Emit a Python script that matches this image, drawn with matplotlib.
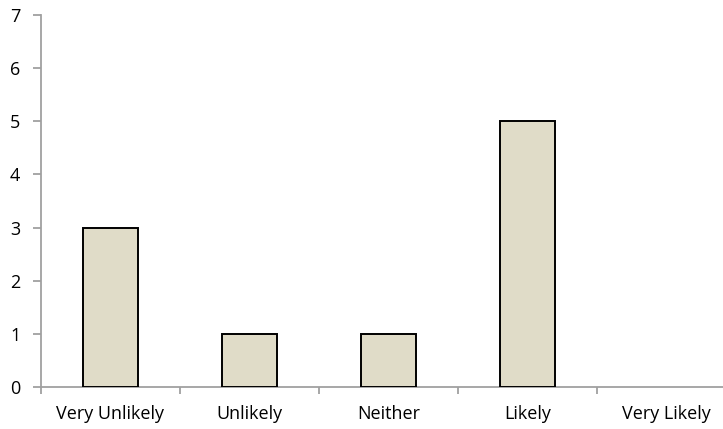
import matplotlib
matplotlib.use("Agg")
import matplotlib.pyplot as plt
import numpy as np

categories = ["Very Unlikely", "Unlikely", "Neither", "Likely", "Very Likely"]
counts = [3, 1, 1, 5, 0]
y_ticks = [0, 1, 2, 3, 4, 5, 6, 7]

plt.rcParams['font.family'] = ['Open Sans', 'DejaVu Sans']

fig = plt.figure(figsize=(7.23, 4.29), dpi=100)
# axis runs past the right edge of the picture, like the original
ax = fig.add_axes([41 / 723, 42 / 429, 695 / 723, 372 / 429])

x = np.arange(len(categories))
# zero-height bars are not outlined in the original
edge_widths = [1.4 if c > 0 else 0 for c in counts]
ax.bar(x, counts, width=0.4, color='#E0DCC8', edgecolor='black',
       linewidth=edge_widths, zorder=3)

ax.set_xlim(-0.5, len(categories) - 0.5)
ax.set_ylim(0, 7)
ax.set_yticks(y_ticks)
ax.set_yticklabels([str(v) for v in y_ticks], fontsize=13)

ax.set_xticks(x)
ax.set_xticklabels(categories, fontsize=13)
ax.tick_params(axis='x', which='major', length=0, pad=13)
ax.set_xticks(np.arange(len(categories) + 1) - 0.5, minor=True)
ax.tick_params(axis='x', which='minor', length=5, color='#A0A0A0', width=1.3, direction='out')
ax.tick_params(axis='y', length=6, color='#A0A0A0', width=1.3, direction='out', pad=9)

for side in ['top', 'right']:
    ax.spines[side].set_visible(False)
for side in ['left', 'bottom']:
    ax.spines[side].set_color('#A0A0A0')
    ax.spines[side].set_linewidth(1.3)

fig.savefig("out.png", dpi=100)
